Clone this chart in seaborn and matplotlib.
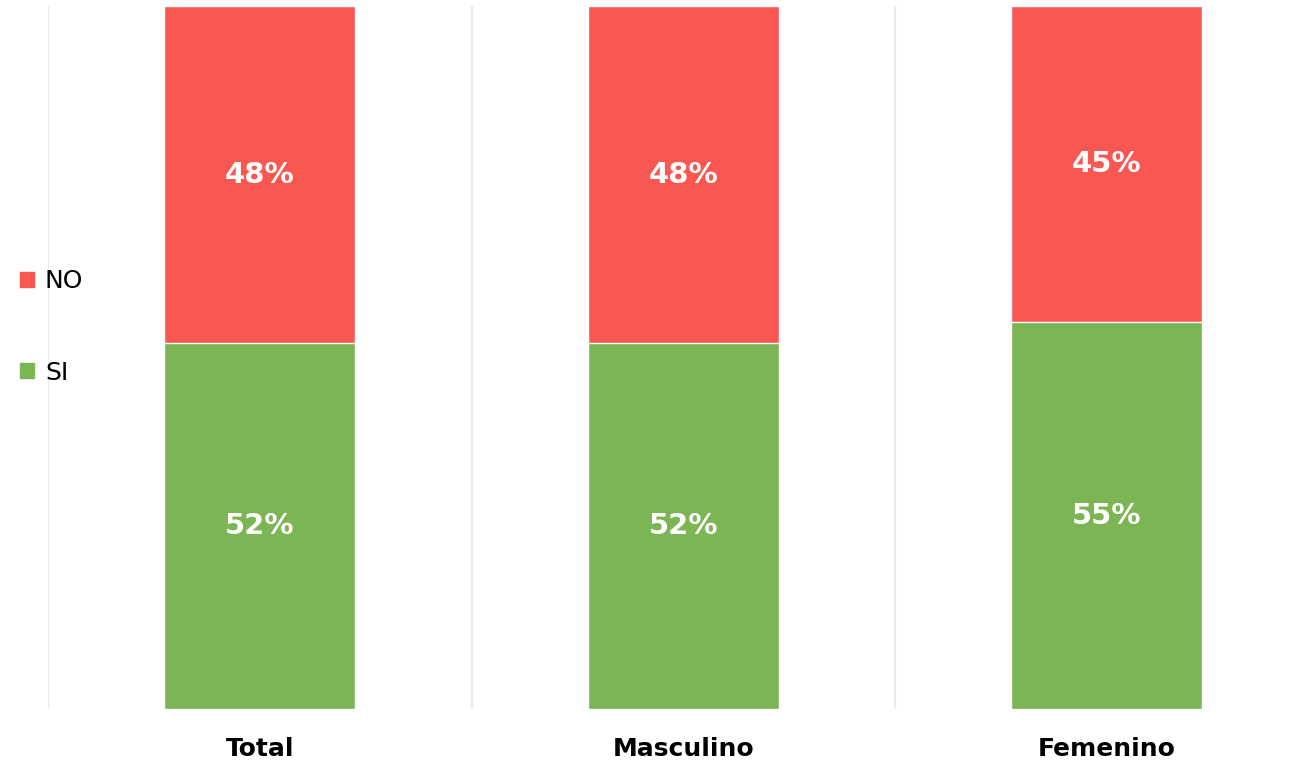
import matplotlib
matplotlib.use("Agg")
import matplotlib.pyplot as plt
import seaborn as sns
import pandas as pd
from matplotlib.patches import Patch

categories = ["Total", "Masculino", "Femenino"]
si_values = [52, 52, 55]
no_values = [48, 48, 45]
series_names = ["NO", "SI"]

RED = "#F95752"
GREEN = "#7CB553"

sns.set_theme(style="white")
plt.rcParams['font.family'] = ['DejaVu Sans']

df = pd.DataFrame({"cat": categories, "SI": si_values, "NO": no_values})
df["TOT"] = df["SI"] + df["NO"]

fig = plt.figure(figsize=(12.96, 7.67), dpi=100)
ax = fig.add_axes([48/1296, 1-709/767, 1-48/1296, (709-6)/767])

sns.barplot(data=df, x="cat", y="TOT", color=RED, saturation=1, width=0.45,
            edgecolor="white", linewidth=1, ax=ax)
sns.barplot(data=df, x="cat", y="SI", color=GREEN, saturation=1, width=0.45,
            edgecolor="white", linewidth=1, ax=ax)

# labels
no_cont, si_cont = ax.containers[0], ax.containers[1]
for bar, si, no in zip(no_cont, si_values, no_values):
    cx = bar.get_x() + bar.get_width()/2
    ax.text(cx, si + no/2, f"{no}%", ha="center", va="center",
            color="white", fontsize=21, fontweight="bold")
ax.bar_label(si_cont, labels=[f"{v}%" for v in si_values], label_type="center",
             color="white", fontsize=21, fontweight="bold")

ax.set_ylim(0, 100)
ax.set_xlim(-0.5, -0.5 + 1248/423.5)
for xv in [-0.5, 0.5, 1.5, 2.5]:
    ax.axvline(xv, color="#EBEBEB", linewidth=1.5, zorder=0)

for s in ax.spines.values():
    s.set_visible(False)
ax.set_yticks([])
ax.set_xlabel("")
ax.set_ylabel("")
ax.tick_params(axis="x", length=0, pad=20)
for lbl in ax.get_xticklabels():
    lbl.set_fontsize(18)
    lbl.set_fontweight("bold")
    lbl.set_color("black")

handles = [Patch(color=RED, label="NO"), Patch(color=GREEN, label="SI")]
leg = fig.legend(handles=handles, loc="center left", bbox_to_anchor=(-0.002, 1-327/767),
                 frameon=False, fontsize=18, handlelength=0.55, handleheight=0.55,
                 handletextpad=0.45, labelspacing=2.7)
for t in leg.get_texts():
    t.set_color("black")

fig.savefig("out.png", dpi=100)
